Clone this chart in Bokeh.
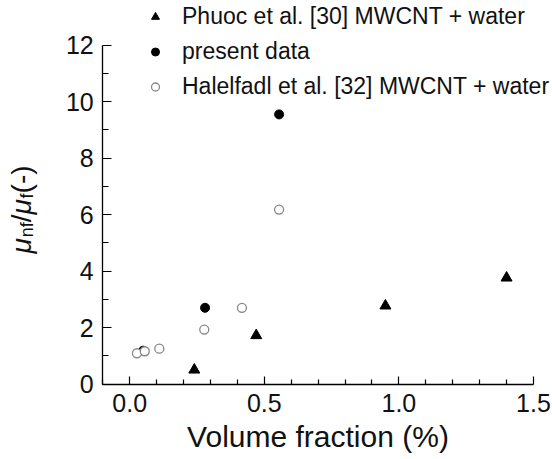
import math
from bokeh.plotting import figure
from bokeh.models import Range1d, FixedTicker, PrintfTickFormatter, Legend, LegendItem, Label
from bokeh.embed import file_html
from bokeh.resources import INLINE

# ---- data ----
phuoc_x = [0.24, 0.47, 0.95, 1.40]
phuoc_y = [0.50, 1.72, 2.77, 3.76]

present_x = [0.05, 0.28, 0.555]
present_y = [1.18, 2.70, 9.55]

halel_x = [0.027, 0.056, 0.11, 0.277, 0.417, 0.555]
halel_y = [1.09, 1.16, 1.25, 1.93, 2.70, 6.18]

x_major = [0.0, 0.5, 1.0, 1.5]
x_minor = [-0.1, 0.1, 0.2, 0.3, 0.4, 0.6, 0.7, 0.8, 0.9, 1.1, 1.2, 1.3, 1.4]
y_major = [0, 2, 4, 6, 8, 10, 12]
y_minor = [1, 3, 5, 7, 9, 11]
x_bounds = (-0.1, 1.5)
y_bounds = (0, 12)

labels = ["Phuoc et al. [30] MWCNT + water", "present data", "Halelfadl et al. [32] MWCNT + water"]
x_title = "Volume fraction (%)"

FONT = "Liberation Sans"

# The frame fills the whole canvas; the axes are pinned at x=-0.1 / y=0 and
# limited with bounds, so the legend and the y title can sit in the margins.
p = figure(width=552, height=459, output_backend="svg", toolbar_location=None,
           x_range=Range1d(-0.4799, 1.5706), y_range=Range1d(-2.674, 13.585),
           min_border=0, min_border_left=0, min_border_right=0,
           min_border_top=0, min_border_bottom=0)
p.grid.visible = False
p.outline_line_color = None
p.background_fill_color = "white"
p.border_fill_color = "white"

for ax in (p.xaxis[0], p.yaxis[0]):
    ax.axis_line_width = 1.3
    ax.axis_line_color = "black"
    ax.major_tick_line_color = "black"
    ax.minor_tick_line_color = "black"
    ax.major_tick_line_width = 1.2
    ax.minor_tick_line_width = 1.2
    ax.major_tick_out = 0
    ax.minor_tick_out = 0
    ax.major_label_text_font = FONT
    ax.major_label_text_font_size = "25px"
    ax.major_label_text_color = "#111111"

xa = p.xaxis[0]
xa.fixed_location = y_bounds[0]
xa.bounds = x_bounds
xa.ticker = FixedTicker(ticks=x_major, minor_ticks=x_minor)
xa.formatter = PrintfTickFormatter(format="%.1f")
xa.major_tick_in = 8
xa.minor_tick_in = 5
xa.major_label_standoff = 10
xa.axis_label = x_title
xa.axis_label_text_font = FONT
xa.axis_label_text_font_size = "30px"
xa.axis_label_text_font_style = "normal"
xa.axis_label_text_color = "#111111"
xa.axis_label_standoff = 4

ya = p.yaxis[0]
ya.fixed_location = x_bounds[0]
ya.bounds = y_bounds
ya.ticker = FixedTicker(ticks=y_major, minor_ticks=y_minor)
ya.major_tick_in = 9
ya.minor_tick_in = 6
ya.major_label_standoff = 9

r_pr = p.scatter(present_x, present_y, marker="circle", size=9, fill_color="black", line_color="black")
r_ha = p.scatter(halel_x, halel_y, marker="circle", size=9, fill_color="white",
                 line_color="#888888", line_width=1.3)
r_ph = p.scatter(phuoc_x, phuoc_y, marker="triangle", size=11, fill_color="black", line_color="black")

legend = Legend(items=[LegendItem(label=labels[0], renderers=[r_ph]),
                       LegendItem(label=labels[1], renderers=[r_pr]),
                       LegendItem(label=labels[2], renderers=[r_ha])],
                location=(145, 355), orientation="vertical",
                glyph_width=20, glyph_height=35, label_height=35, label_width=10,
                label_standoff=17, padding=0, margin=0, spacing=0,
                label_text_font=FONT, label_text_font_size="23px", label_text_color="#111111",
                label_text_baseline="middle",
                border_line_color=None, background_fill_alpha=0)
p.add_layout(legend)

# ---- y-axis title built from pieces: mu_nf / mu_f (-) ----
main = 28
sub = 18
base_x = 21            # baseline, px from the left
sub_x = base_x + 5
y0 = 459 - 253         # start, px from the bottom
pieces = [("μ", main, "italic", base_x),
          ("nf", sub, "normal", sub_x),
          ("/", main, "normal", base_x),
          ("μ", main, "italic", base_x),
          ("f", sub, "normal", sub_x),
          (" (-)", main, "normal", base_x)]
adv = {"μ": 0.576, "n": 0.556, "f": 0.278, "/": 0.278, " ": 0.278, "(": 0.333, "-": 0.333, ")": 0.333}
y = y0
for txt, fs, style, bx in pieces:
    p.add_layout(Label(x=bx, y=y, x_units="screen", y_units="screen", text=txt,
                       angle=math.pi / 2, text_font=FONT, text_font_size=f"{fs}px",
                       text_font_style=style, text_align="left", text_baseline="alphabetic",
                       text_color="#111111"))
    y += sum(adv[c] for c in txt) * fs

open("out.html", "w").write(file_html(p, INLINE))
